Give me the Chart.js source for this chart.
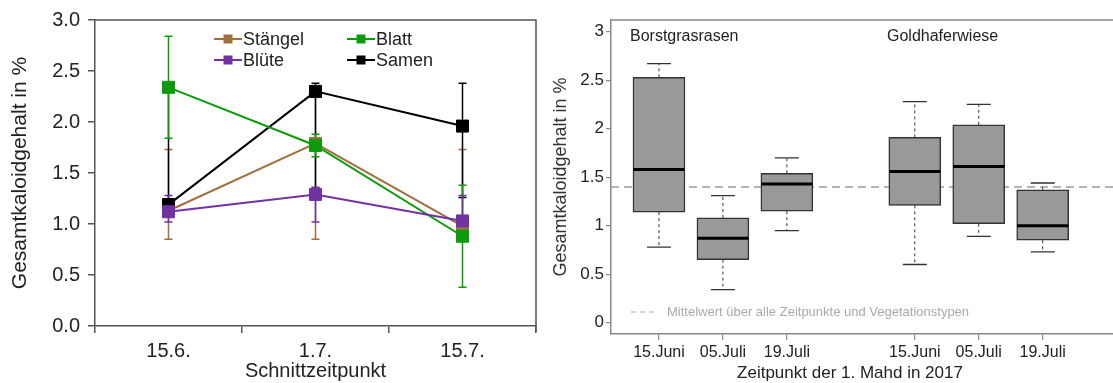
<!DOCTYPE html>
<html>
<head>
<meta charset="utf-8">
<script src="https://cdn.jsdelivr.net/npm/chart.js@4.4.1/dist/chart.umd.min.js"></script>
<style>
    html, body { margin: 0; padding: 0; background: #fff; overflow: hidden; width: 1113px; height: 383px; }
    #leftChart { position: absolute; left: 0; top: 0; }
    #rightChart { position: absolute; left: 548px; top: 0; }
</style>
</head>
<body>
<canvas id="leftChart" width="550" height="383" style="width:550px;height:383px"></canvas>
<canvas id="rightChart" width="580" height="383" style="width:580px;height:383px"></canvas>
<script>
// linke Grafik: Mittelwerte je Pflanzenteil mit Fehlerbalken
var cuttingDates = ['15.6.', '1.7.', '15.7.'];
var leftYTicks = [0, 0.5, 1, 1.5, 2, 2.5, 3];

var staengelMean = [1.13, 1.79, 0.98];
var staengelLow = [0.85, 0.85, 0.86];
var staengelHigh = [1.73, 2.30, 1.73];

var blattMean = [2.34, 1.77, 0.88];
var blattLow = [1.84, 1.66, 0.38];
var blattHigh = [2.84, 1.88, 1.38];

var blueteMean = [1.12, 1.29, 1.03];
var blueteLow = [1.02, 1.02, 0.92];
var blueteHigh = [1.28, 1.36, 1.28];

var samenMean = [1.19, 2.30, 1.96];
var samenLow = [1.10, 1.35, 1.26];
var samenHigh = [2.30, 2.38, 2.38];

// rechte Grafik: Boxplots je Vegetationstyp und Mahdtermin
var boxLabels = ['15.Juni', '05.Juli', '19.Juli', '15.Juni', '05.Juli', '19.Juli'];
var boxPositions = [1, 2, 3, 5, 6, 7];
var boxMin = [0.78, 0.34, 0.95, 0.60, 0.89, 0.73];
var boxQ1 = [1.14, 0.65, 1.15, 1.21, 1.02, 0.85];
var boxMedian = [1.58, 0.87, 1.43, 1.56, 1.61, 1.00];
var boxQ3 = [2.53, 1.08, 1.54, 1.91, 2.04, 1.37];
var boxMax = [2.67, 1.31, 1.70, 2.28, 2.25, 1.44];
var overallMean = 1.40;
var rightYTicks = [0, 0.5, 1, 1.5, 2, 2.5, 3];
var rightYTickLabels = ['0', '0.5', '1', '1.5', '2', '2.5', '3'];

var FONT = 'Liberation Sans, Arial, sans-serif';

var errorBarPlugin = {
    id: 'errorBars',
    beforeDatasetsDraw: function (chart) {
        var ctx = chart.ctx;
        var y = chart.scales.y;
        var order = chart.data.datasets.map(function (d, i) { return i; })
            .sort(function (a, b) { return chart.data.datasets[b].order - chart.data.datasets[a].order; });
        ctx.save();
        order.forEach(function (i) {
            var ds = chart.data.datasets[i];
            var meta = chart.getDatasetMeta(i);
            ctx.strokeStyle = ds.borderColor;
            ctx.lineWidth = 1.5;
            meta.data.forEach(function (pt, j) {
                var top = y.getPixelForValue(ds.errHigh[j]);
                var bot = y.getPixelForValue(ds.errLow[j]);
                ctx.beginPath();
                ctx.moveTo(pt.x, top); ctx.lineTo(pt.x, bot);
                ctx.moveTo(pt.x - 4, top); ctx.lineTo(pt.x + 4, top);
                ctx.moveTo(pt.x - 4, bot); ctx.lineTo(pt.x + 4, bot);
                ctx.stroke();
            });
        });
        ctx.restore();
    },
    afterDraw: function (chart) {
        var ctx = chart.ctx;
        var a = chart.chartArea;
        ctx.save();
        // Rahmen oben und rechts
        ctx.strokeStyle = '#555';
        ctx.lineWidth = 1.5;
        ctx.beginPath();
        ctx.moveTo(a.left, a.top); ctx.lineTo(a.right, a.top); ctx.lineTo(a.right, a.bottom + 6);
        ctx.stroke();

        // Legende 2x2 im Diagramm
        var cols = [a.left + 119, a.left + 252];
        var rows = [a.top + 19, a.top + 40];
        var slots = [[0, 0], [1, 0], [0, 1], [1, 1]];
        ctx.font = '18px ' + FONT;
        ctx.textBaseline = 'middle';
        chart.data.datasets.forEach(function (ds, i) {
            var lx = cols[slots[i][0]];
            var ly = rows[slots[i][1]];
            ctx.strokeStyle = ds.borderColor;
            ctx.lineWidth = 2;
            ctx.beginPath(); ctx.moveTo(lx, ly); ctx.lineTo(lx + 28, ly); ctx.stroke();
            ctx.fillStyle = ds.borderColor;
            ctx.fillRect(lx + 9.5, ly - 4.5, 9, 9);
            ctx.fillStyle = '#222';
            ctx.fillText(ds.label, lx + 29, ly + 1);
        });
        ctx.restore();
    }
};

function series(label, color, mean, low, high, order) {
    return {
        label: label, data: mean, errLow: low, errHigh: high, order: order,
        borderColor: color, backgroundColor: color,
        pointBackgroundColor: color, pointBorderColor: color
    };
}

new Chart(document.getElementById('leftChart'), {
    type: 'line',
    data: {
        labels: cuttingDates,
        datasets: [
            series('Stängel', '#A36E3E', staengelMean, staengelLow, staengelHigh, 4),
            series('Blatt', '#0B9B0B', blattMean, blattLow, blattHigh, 2),
            series('Blüte', '#7232A3', blueteMean, blueteLow, blueteHigh, 1),
            series('Samen', '#000000', samenMean, samenLow, samenHigh, 3)
        ]
    },
    options: {
        responsive: false,
        animation: false,
        layout: { padding: { left: 0, top: 17, right: 14, bottom: 0 } },
        plugins: { legend: { display: false }, tooltip: { enabled: false } },
        elements: {
            line: { borderWidth: 2, tension: 0 },
            point: { pointStyle: 'rect', radius: 8.5, borderWidth: 1 }
        },
        scales: {
            x: {
                offset: true,
                grid: { offset: true, drawOnChartArea: false, tickLength: 7, color: '#555', lineWidth: 1.5 },
                border: { color: '#555', width: 1.5 },
                ticks: { color: '#222', font: { family: FONT, size: 20 }, padding: 6 },
                title: { display: true, text: 'Schnittzeitpunkt', color: '#222', font: { family: FONT, size: 20 }, padding: { top: 0, bottom: 0 } },
                afterFit: function (s) { s.height = 57; }
            },
            y: {
                min: 0, max: 3,
                afterBuildTicks: function (s) { s.ticks = leftYTicks.map(function (v) { return { value: v }; }); },
                ticks: { color: '#222', font: { family: FONT, size: 20 }, padding: 8, callback: function (v) { return v.toFixed(1); } },
                grid: { drawOnChartArea: false, tickLength: 7, color: '#555', lineWidth: 1.5 },
                border: { color: '#555', width: 1.5 },
                title: { display: true, text: 'Gesamtkaloidgehalt in %', color: '#222', font: { family: FONT, size: 21 }, padding: { top: 8, bottom: 0 } },
                afterFit: function (s) { s.width = 95; }
            }
        }
    },
    plugins: [errorBarPlugin]
});

var boxPlugin = {
    id: 'boxParts',
    beforeDatasetsDraw: function (chart) {
        var ctx = chart.ctx;
        var a = chart.chartArea;
        var yPix = chart.scales.y.getPixelForValue(overallMean);
        ctx.save();
        ctx.strokeStyle = '#9a9a9a';
        ctx.lineWidth = 1.5;
        ctx.setLineDash([8, 5]);
        ctx.beginPath(); ctx.moveTo(a.left, yPix); ctx.lineTo(a.right, yPix); ctx.stroke();
        ctx.restore();
    },
    afterDatasetsDraw: function (chart) {
        var ctx = chart.ctx;
        var x = chart.scales.x, y = chart.scales.y;
        ctx.save();
        boxPositions.forEach(function (p, i) {
            var px = x.getPixelForValue(p);
            ctx.strokeStyle = '#333';
            ctx.lineWidth = 1;
            ctx.setLineDash([3, 3]);
            ctx.beginPath();
            ctx.moveTo(px, y.getPixelForValue(boxQ3[i])); ctx.lineTo(px, y.getPixelForValue(boxMax[i]));
            ctx.moveTo(px, y.getPixelForValue(boxQ1[i])); ctx.lineTo(px, y.getPixelForValue(boxMin[i]));
            ctx.stroke();
            ctx.setLineDash([]);
            ctx.lineWidth = 1.3;
            ctx.beginPath();
            ctx.moveTo(px - 12, y.getPixelForValue(boxMax[i])); ctx.lineTo(px + 12, y.getPixelForValue(boxMax[i]));
            ctx.moveTo(px - 12, y.getPixelForValue(boxMin[i])); ctx.lineTo(px + 12, y.getPixelForValue(boxMin[i]));
            ctx.stroke();
            ctx.strokeStyle = '#000';
            ctx.lineWidth = 3;
            ctx.beginPath();
            ctx.moveTo(px - 25.5, y.getPixelForValue(boxMedian[i])); ctx.lineTo(px + 25.5, y.getPixelForValue(boxMedian[i]));
            ctx.stroke();
        });
        ctx.restore();
    },
    afterDraw: function (chart) {
        var ctx = chart.ctx;
        var a = chart.chartArea;
        ctx.save();
        ctx.strokeStyle = '#888';
        ctx.lineWidth = 1.5;
        ctx.beginPath();
        ctx.moveTo(a.left, a.top); ctx.lineTo(a.right, a.top); ctx.lineTo(a.right, a.bottom);
        ctx.stroke();

        ctx.fillStyle = '#222';
        ctx.textBaseline = 'middle';
        ctx.font = '16px ' + FONT;
        ctx.fillText('Borstgrasrasen', a.left + 19, a.top + 17);
        ctx.fillText('Goldhaferwiese', a.left + 276, a.top + 17);

        ctx.textAlign = 'center';
        ctx.font = '17px ' + FONT;
        ctx.fillText('Zeitpunkt der 1. Mahd in 2017', a.left + 239, 373);

        // Legende Mittelwert
        var ly = a.bottom - 22;
        ctx.strokeStyle = '#aaa';
        ctx.lineWidth = 1.2;
        ctx.setLineDash([5, 4]);
        ctx.beginPath(); ctx.moveTo(a.left + 20, ly); ctx.lineTo(a.left + 46, ly); ctx.stroke();
        ctx.setLineDash([]);
        ctx.textAlign = 'left';
        ctx.fillStyle = '#aaa';
        ctx.font = '13px ' + FONT;
        ctx.fillText('Mittelwert über alle Zeitpunkte und Vegetationstypen', a.left + 56, ly);
        ctx.restore();
    }
};

new Chart(document.getElementById('rightChart'), {
    type: 'bar',
    data: {
        datasets: [{
            data: boxPositions.map(function (p, i) { return { x: p, y: [boxQ1[i], boxQ3[i]] }; }),
            backgroundColor: '#999999',
            borderColor: '#333',
            borderWidth: 1.5,
            borderSkipped: false,
            barThickness: 52
        }]
    },
    options: {
        responsive: false,
        animation: false,
        layout: { padding: { left: 0, top: 20, right: 6, bottom: 0 } },
        plugins: { legend: { display: false }, tooltip: { enabled: false } },
        scales: {
            x: {
                type: 'linear', min: 0.25, max: 8.24, offset: false,
                afterBuildTicks: function (s) { s.ticks = boxPositions.map(function (v) { return { value: v }; }); },
                ticks: {
                    color: '#222', font: { family: FONT, size: 16 }, padding: 3, maxRotation: 0, autoSkip: false,
                    callback: function (v) { return boxLabels[boxPositions.indexOf(v)]; }
                },
                grid: { offset: false, drawOnChartArea: false, tickLength: 6, color: '#888', lineWidth: 1.2 },
                border: { color: '#888', width: 1.5 },
                afterFit: function (s) { s.height = 49; }
            },
            y: {
                min: -0.1165, max: 3.1206,
                afterBuildTicks: function (s) { s.ticks = rightYTicks.map(function (v) { return { value: v }; }); },
                ticks: {
                    color: '#222', font: { family: FONT, size: 17 }, padding: 2,
                    callback: function (v) { return rightYTickLabels[rightYTicks.indexOf(v)]; }
                },
                grid: { drawOnChartArea: false, tickLength: 5, color: '#888', lineWidth: 1.2 },
                border: { color: '#888', width: 1.5 },
                title: { display: true, text: 'Gesamtkaloidgehalt in %', color: '#333', font: { family: FONT, size: 18 }, padding: { top: 2, bottom: 0 } },
                afterFit: function (s) { s.width = 63; }
            }
        }
    },
    plugins: [boxPlugin]
});
</script>
</body>
</html>
